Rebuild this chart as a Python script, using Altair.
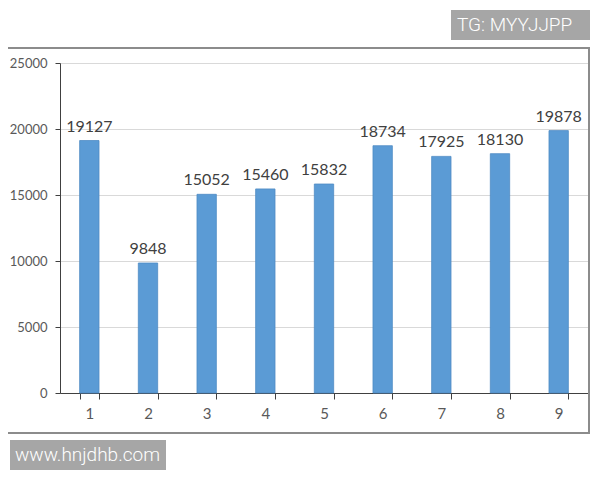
import altair as alt
import pandas as pd

categories = ["1", "2", "3", "4", "5", "6", "7", "8", "9"]
values = [19127, 9848, 15052, 15460, 15832, 18734, 17925, 18130, 19878]
y_ticks = [0, 5000, 10000, 15000, 20000, 25000]

df = pd.DataFrame({"cat": categories, "val": values})

W, H = 528, 330
FONT = "Lato"

x_enc = alt.X("cat:N", sort=categories, title=None,
              scale=alt.Scale(paddingInner=0.67, paddingOuter=0.335),
              axis=alt.Axis(labelAngle=0, labelFontSize=15, labelColor="#595959",
                            labelFont=FONT, domainColor="#404040", tickColor="#404040",
                            tickSize=6, tickBand="extent", labelPadding=7, grid=False))
y_enc = alt.Y("val:Q", title=None,
              scale=alt.Scale(domain=[0, 25000], nice=False),
              axis=alt.Axis(values=y_ticks, format="d", labelFontSize=13, labelColor="#595959",
                            labelFont=FONT, domainColor="#404040", tickColor="#404040",
                            tickSize=5, labelPadding=8, gridColor="#D9D9D9", grid=True))

base = alt.Chart(df)
bars = base.mark_bar(color="#5B9BD5", stroke="#4F8CC4", strokeWidth=0.8).encode(x=x_enc, y=y_enc)
labels = base.mark_text(baseline="bottom", dy=-6, fontSize=16, font=FONT, color="#404040").encode(
    x=alt.X("cat:N", sort=categories), y="val:Q", text="val:Q")

border = alt.Chart(df).mark_rect(fill=None, stroke="#8C8C8C", strokeWidth=1.5).encode(
    x=alt.value(-59), x2=alt.value(529), y=alt.value(-15), y2=alt.value(370))

wm_df = pd.DataFrame({"t": ["TG: MYYJJPP"]})
wm_df2 = pd.DataFrame({"t": ["www.hnjdhb.com"]})

wm1_box = alt.Chart(wm_df).mark_rect(color="#A6A6A6").encode(
    x=alt.value(391), x2=alt.value(530), y=alt.value(-53), y2=alt.value(-23))
wm1_txt = alt.Chart(wm_df).mark_text(color="white", fontSize=19, fontWeight=300,
                                     font="Roboto", align="left", baseline="middle").encode(
    x=alt.value(397), y=alt.value(-38), text="t:N")
wm2_box = alt.Chart(wm_df2).mark_rect(color="#A6A6A6").encode(
    x=alt.value(-50), x2=alt.value(106), y=alt.value(377), y2=alt.value(407))
wm2_txt = alt.Chart(wm_df2).mark_text(color="white", fontSize=19, fontWeight=300,
                                      font="Roboto", align="left", baseline="middle").encode(
    x=alt.value(-45), y=alt.value(392), text="t:N")

chart = alt.layer(border, bars, labels, wm1_box, wm1_txt, wm2_box, wm2_txt).properties(
    width=W, height=H,
    autosize=alt.AutoSizeParams(type="none"),
    padding={"left": 52, "top": 55, "right": 4, "bottom": 79},
).configure_view(stroke=None).configure(background="white")

chart.save("out.html", embed_options={"renderer": "svg", "actions": False})
